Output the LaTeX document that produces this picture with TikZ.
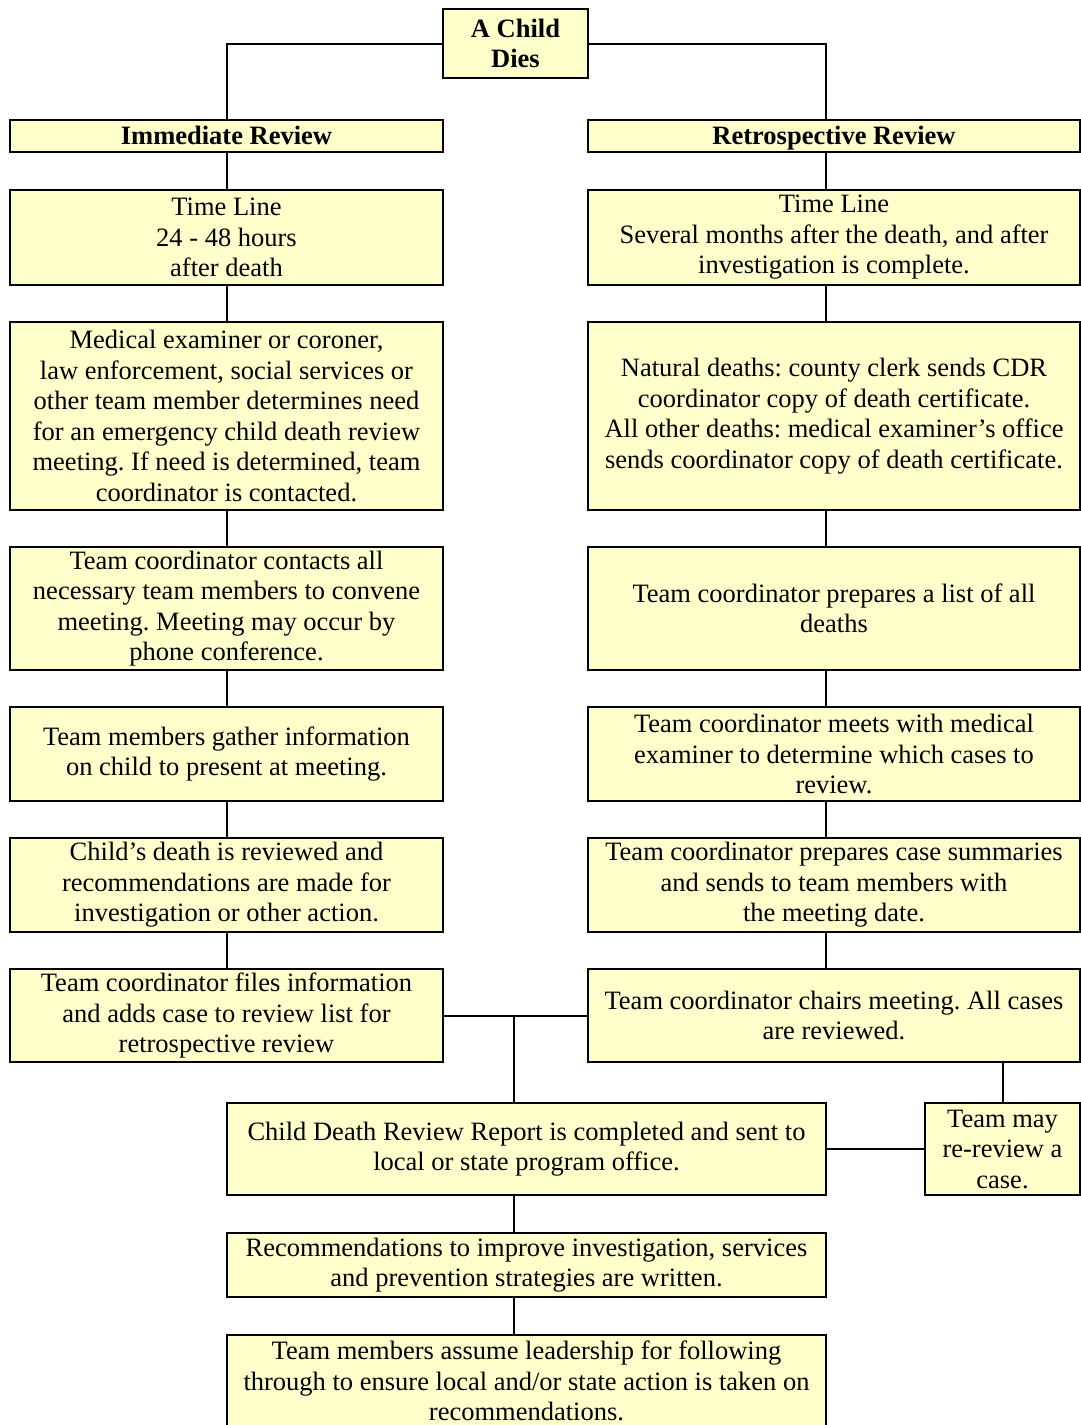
\documentclass[tikz,border=0pt]{standalone}
\usepackage{fontspec}
\setmainfont{Liberation Serif}
\usepackage{tikz}
\usetikzlibrary{positioning}
\frenchspacing
\definecolor{boxfill}{RGB}{255,255,204}
\tikzset{
  stepbox/.style={rectangle, draw=black, fill=boxfill, align=center,
    inner sep=0pt, outer sep=0pt, line width=2pt,
    font=\fontsize{26.5}{30.5}\selectfont},
  headbox/.style={stepbox, font=\fontsize{26.5}{30.5}\selectfont\bfseries},
  leftbox/.style={stepbox, minimum width=433pt},
  rightbox/.style={stepbox, minimum width=492pt},
  midbox/.style={stepbox, minimum width=599pt},
  line/.style={line width=2pt, color=black}
}
\begin{document}
\begin{tikzpicture}[x=1pt, y=-1pt, node distance=37pt]
  \useasboundingbox (0,0) rectangle (1081,1425);
  \coordinate (rx) at (826,0);
  \coordinate (mx) at (514,0);

  \node[headbox, minimum width=145pt, minimum height=69pt] (child) at (515.5,43.5) {A Child\\Dies};
  \node[headbox, minimum width=433pt, minimum height=32pt, text height=20pt, text depth=2.5pt] (lhead) at (226.5,136) {Immediate Review};
  \node[headbox, minimum width=492pt, minimum height=32pt, text height=20pt, text depth=2.5pt] (rhead) at (834,136) {Retrospective Review};

  \node[leftbox, minimum height=95pt] (ltime) at (226.5,237.5) {Time Line\\24 - 48 hours\\after death};
  \node[leftbox, minimum height=188pt, below=of ltime] (lexam) {Medical examiner or coroner,\\law enforcement, social services or\\other team member determines need\\for an emergency child death review\\meeting. If need is determined, team\\coordinator is contacted.};
  \node[leftbox, minimum height=123pt, below=of lexam] (lconv) {Team coordinator contacts all\\necessary team members to convene\\meeting. Meeting may occur by\\phone conference.};
  \node[leftbox, minimum height=94pt, below=of lconv] (lgath) {Team members gather information\\on child to present at meeting.};
  \node[leftbox, minimum height=94pt, below=of lgath] (lrevw) {Child’s death is reviewed and\\recommendations are made for\\investigation or other action.};
  \node[leftbox, minimum height=93pt, below=of lrevw] (lfile) {Team coordinator files information\\and adds case to review list for\\retrospective review};

  \node[rightbox, minimum height=95pt] (rtime) at (834,237.5) {Time Line\\Several months after the death, and after\\investigation is complete.};
  \node[rightbox, minimum height=188pt, below=of rtime] (rcert) {Natural deaths: county clerk sends CDR\\coordinator copy of death certificate.\\All other deaths: medical examiner’s office\\sends coordinator copy of death certificate.};
  \node[rightbox, minimum height=123pt, below=of rcert] (rlist) {Team coordinator prepares a list of all\\deaths};
  \node[rightbox, minimum height=94pt, below=of rlist] (rmeet) {Team coordinator meets with medical\\examiner to determine which cases to\\review.};
  \node[rightbox, minimum height=94pt, below=of rmeet] (rsumm) {Team coordinator prepares case summaries\\and sends to team members with\\the meeting date.};
  \node[rightbox, minimum height=93pt, below=of rsumm] (rchair) {Team coordinator chairs meeting. All cases\\are reviewed.};

  \node[midbox, minimum height=92pt] (report) at (526.5,1149) {Child Death Review Report is completed and sent to\\local or state program office.};
  \node[stepbox, minimum width=155pt, minimum height=92pt] (rerev) at (1002.5,1149) {Team may\\re-review a\\case.};
  \node[midbox, minimum height=64pt, below=38pt of report] (recom) {Recommendations to improve investigation, services\\and prevention strategies are written.};
  \node[midbox, minimum height=92pt, below=38pt of recom] (lead) {Team members assume leadership for following\\through to ensure local and/or state action is taken on\\recommendations.};

  \draw[line] (child.west) -| (lhead.north);
  \draw[line] (child.east) -| (rhead.north -| rx);
  \draw[line] (lhead) -- (ltime);
  \draw[line] (ltime) -- (lexam);
  \draw[line] (lexam) -- (lconv);
  \draw[line] (lconv) -- (lgath);
  \draw[line] (lgath) -- (lrevw);
  \draw[line] (lrevw) -- (lfile);
  \draw[line] (rhead.south -| rx) -- (rtime.north -| rx);
  \draw[line] (rtime.south -| rx) -- (rcert.north -| rx);
  \draw[line] (rcert.south -| rx) -- (rlist.north -| rx);
  \draw[line] (rlist.south -| rx) -- (rmeet.north -| rx);
  \draw[line] (rmeet.south -| rx) -- (rsumm.north -| rx);
  \draw[line] (rsumm.south -| rx) -- (rchair.north -| rx);
  \draw[line] (lfile.east) -- (rchair.west);
  \draw[line] (lfile.east -| mx) -- (report.north -| mx);
  \draw[line] (rerev.north |- rchair.south) -- (rerev.north);
  \draw[line] (report.east) -- (rerev.west);
  \draw[line] (report.south -| mx) -- (recom.north -| mx);
  \draw[line] (recom.south -| mx) -- (lead.north -| mx);
\end{tikzpicture}
\end{document}
